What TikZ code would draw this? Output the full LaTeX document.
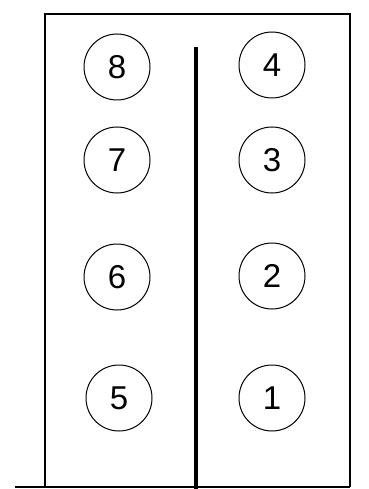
\documentclass[tikz,border=0pt]{standalone}
\usepackage{fontspec}
\setmainfont{Liberation Sans}
\usetikzlibrary{positioning}
\tikzset{
  cyl node/.style={draw=black,circle,line width=1pt,minimum size=66pt,
    inner sep=0pt,font=\fontsize{33}{33}\selectfont},
  bank wall/.style={draw=black,line width=1.6pt},
  split line/.style={draw=black,line width=3.2pt}
}
\begin{document}
\begin{tikzpicture}[x=1pt,y=-1pt]
  \useasboundingbox (0,0) rectangle (368,489);
  % outline of the block
  \draw[bank wall] (15,487) -- (350,487);
  \draw[bank wall] (45,487) |- (350,14) -- (350,487);
  \coordinate (divtop) at (196,47);
  \coordinate (divbot) at (196,489);
  \draw[split line] (divtop) -- (divbot);
  % left bank
  \node[cyl node] (c8) at (117,67) {8};
  \node[cyl node] (c7) at (117,160) {7};
  \node[cyl node] (c6) at (117,277) {6};
  \node[cyl node] (c5) at (119,398) {5};
  % right bank
  \node[cyl node] (c4) at (272,65) {4};
  \node[cyl node] (c3) at (272,160) {3};
  \node[cyl node] (c2) at (272,276) {2};
  \node[cyl node] (c1) at (272,398) {1};
\end{tikzpicture}
\end{document}
